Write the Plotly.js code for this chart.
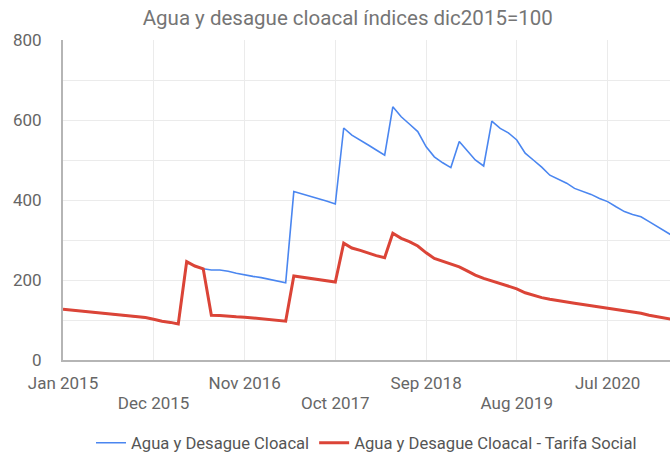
<!DOCTYPE html>
<html>
<head>
<meta charset="utf-8">
<script src="https://cdn.plot.ly/plotly-3.0.1.min.js"></script>
<style>html,body{margin:0;padding:0;background:#fff;}#chart{width:670px;height:456px;}</style>
</head>
<body>
<div id="chart"></div>
<script>
// Monthly series starting Jan 2015
var startYear = 2015, startMonth = 1;
var seriesNames = ['Agua y Desague Cloacal', 'Agua y Desague Cloacal - Tarifa Social'];

var aguaDesague = [
  127,125,122,120,118,117,115,113,111,109,106,102,97,94,90,
  246,235,228,
  225,225,222,217,212,209,206,202,198,193,
  421,415,410,404,397,390,
  580,562,550,537,525,512,
  633,608,590,571,533,508,493,481,546,521,500,485,
  597,579,568,550,517,500,482,462,452,442,429,422,414,404,396,383,371,364,358,346,333,321,309
];
var tarifaSocial = [
  127,125,122,120,118,117,115,113,111,109,106,102,97,94,90,
  246,235,228,
  112,111,109,108,107,105,104,102,100,97,
  210,207,204,201,198,195,
  292,280,274,267,261,256,
  317,304,296,285,268,254,247,240,233,222,212,204,
  198,192,186,178,168,162,156,152,148,144,142,139,136,133,131,127,123,121,117,112,108,104,101
];

var tickRow1Vals = ['2015-01-01','2016-11-01','2018-09-01','2020-07-01'];
var tickRow1Text = ['Jan 2015','Nov 2016','Sep 2018','Jul 2020'];
var tickRow2Vals = ['2015-12-01','2017-10-01','2019-08-01'];
var tickRow2Text = ['Dec 2015','Oct 2017','Aug 2019'];

function pad(n){return (n<10?'0':'')+n;}
var months = [];
for (var i = 0; i < aguaDesague.length; i++) {
  var mm = startMonth - 1 + i;
  var y = startYear + Math.floor(mm / 12);
  var m = (mm % 12) + 1;
  months.push(y + '-' + pad(m) + '-01');
}

var allTickVals = tickRow1Vals.concat(tickRow2Vals);
var allTickText = tickRow1Text.concat(tickRow2Vals.map(function(){return '';}));

var font = 'Roboto, Arial, sans-serif';

var data = [
  {x: months, y: aguaDesague, name: seriesNames[0], type: 'scatter', mode: 'lines',
   line: {color: '#4a86f0', width: 1.6}, xaxis: 'x', yaxis: 'y'},
  {x: months, y: tarifaSocial, name: seriesNames[1], type: 'scatter', mode: 'lines',
   line: {color: '#db4437', width: 3}, xaxis: 'x2', yaxis: 'y'}
];

var layout = {
  width: 670, height: 456,
  margin: {l: 63, r: 0, t: 40, b: 96},
  paper_bgcolor: '#fff', plot_bgcolor: '#fff',
  font: {family: font, color: '#666'},
  title: {text: 'Agua y desague cloacal índices dic2015=100',
          font: {family: font, size: 20.5, color: '#757575'},
          xref: 'container', x: 0.519, xanchor: 'center',
          yref: 'container', y: 1 - 18/456, yanchor: 'middle'},
  xaxis: {type: 'date', range: ['2015-01-01', '2021-02-16'],
          tickvals: allTickVals, ticktext: allTickText,
          showgrid: true, gridcolor: '#ebebeb', gridwidth: 1,
          showline: true, linecolor: '#b5b5b5', linewidth: 2,
          zeroline: false, ticks: '', ticklabelstandoff: 7,
          tickfont: {family: font, size: 17, color: '#666'}},
  xaxis2: {type: 'date', overlaying: 'x', matches: 'x', side: 'bottom',
           tickvals: tickRow2Vals, ticktext: tickRow2Text,
           showgrid: false, showline: false, zeroline: false, ticks: '',
           ticklabelstandoff: 31,
           tickfont: {family: font, size: 17, color: '#666'}},
  yaxis: {range: [0, 800], dtick: 200, tick0: 0,
          showgrid: true, gridcolor: '#ebebeb', gridwidth: 1,
          minor: {dtick: 100, showgrid: true, gridcolor: '#ebebeb', gridwidth: 1},
          showline: true, linecolor: '#b5b5b5', linewidth: 2,
          zeroline: false, ticks: '', ticklabelstandoff: 16,
          tickfont: {family: font, size: 17, color: '#666'}},
  showlegend: true,
  legend: {orientation: 'h', x: 0.5, xanchor: 'center', xref: 'paper',
           yref: 'container', y: 1 - 443/456, yanchor: 'middle',
           font: {family: font, size: 16.6, color: '#555'},
           itemwidth: 30, tracegroupgap: 0}
};

Plotly.newPlot('chart', data, layout, {displayModeBar: false, staticPlot: true});
</script>
</body>
</html>
